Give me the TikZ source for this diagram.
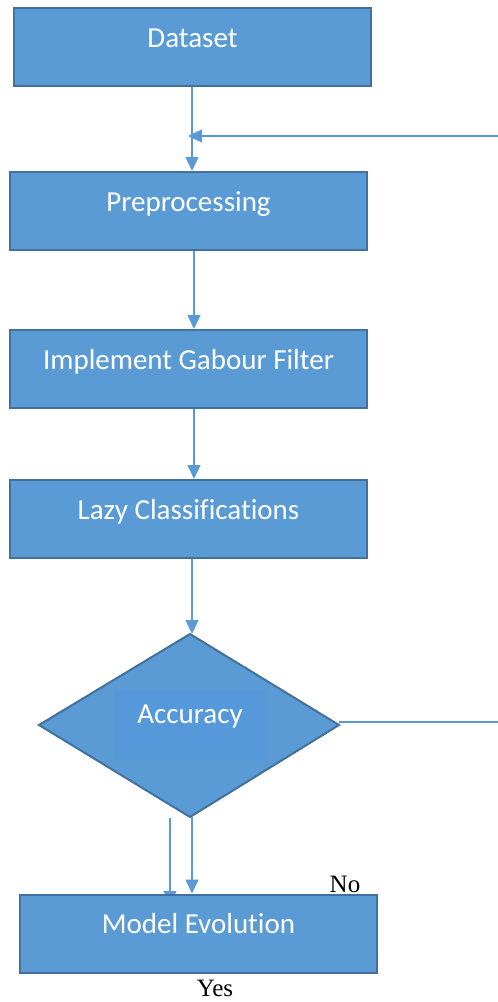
\documentclass[tikz,border=0pt]{standalone}
\usepackage{fontspec}
\setmainfont{Carlito}[Ligatures=NoCommon]
\newfontfamily\timesfont{Liberation Serif}
\usetikzlibrary{arrows.meta}
\definecolor{boxfill}{HTML}{5B9BD5}
\definecolor{boxline}{HTML}{41719C}
\definecolor{innerfill}{HTML}{5599DB}
\definecolor{conn}{HTML}{5B9BD5}
\tikzset{
  stepbox/.style={draw=boxline, line width=2pt, fill=boxfill, text=white,
    minimum width=357pt, minimum height=78pt, inner sep=0pt,
    text height=20pt, text depth=20pt, font=\fontsize{29}{30}\selectfont},
  conn/.style={draw=conn, line width=1.3pt},
  arr/.style={conn, -{Triangle[length=14pt,width=13pt]}},
  lbl/.style={font=\timesfont\fontsize{25}{26}\selectfont, inner sep=0pt, anchor=base}
}
\begin{document}
\begin{tikzpicture}[x=1pt,y=-1pt]
\useasboundingbox (0,0) rectangle (498,1002);
% arrow mostly hidden behind Model Evolution (drawn first)
\coordinate (d2s) at (170,818);
\coordinate (d2e) at (170,905);
\draw[arr] (d2s) -- (d2e);

\node[stepbox] (ds) at (192.5,47) {Dataset};
\node[stepbox] (pre) at (188.5,211) {Preprocessing};
\node[stepbox] (gab) at (188.5,369) {Implement Gabour Filter};
\node[stepbox] (lazy) at (188.5,519) {Lazy Classifications};

% diamond
\coordinate (dT) at (190,634);
\coordinate (dR) at (339,725);
\coordinate (dB) at (190,817);
\coordinate (dL) at (39,725);
\draw[draw=boxline, line width=2pt, fill=boxfill] (dT) -- (dR) -- (dB) -- (dL) -- cycle;
\fill[innerfill] (115,690) rectangle (265,760);
\node[text=white, inner sep=0pt, font=\fontsize{29}{30}\selectfont, anchor=base] (acc) at (190,723) {Accuracy};

\node[stepbox] (me) at (198.5,933.5) {Model Evolution};

% connectors
\coordinate (fb0) at (498,136);
\coordinate (fbt) at (188,136);
\draw[arr] (fb0) -- (fbt);
\draw[arr] (ds.south -| 192,0) -- (pre.north -| 192,0);
\draw[arr] (pre.south -| 194,0) -- (gab.north -| 194,0);
\draw[arr] (gab.south -| 194,0) -- (lazy.north -| 194,0);
\draw[arr] (lazy.south -| 192,0) -- (dT -| 192,0);
\coordinate (fbr) at (498,722);
\draw[conn] (dR |- 0,722) -- (fbr);
\draw[arr] (dB -| 192,0) -- (me.north -| 192,0);

\node[lbl] (no) at (345,892) {No};
\node[lbl] (yes) at (215,996) {Yes};
\end{tikzpicture}
\end{document}
